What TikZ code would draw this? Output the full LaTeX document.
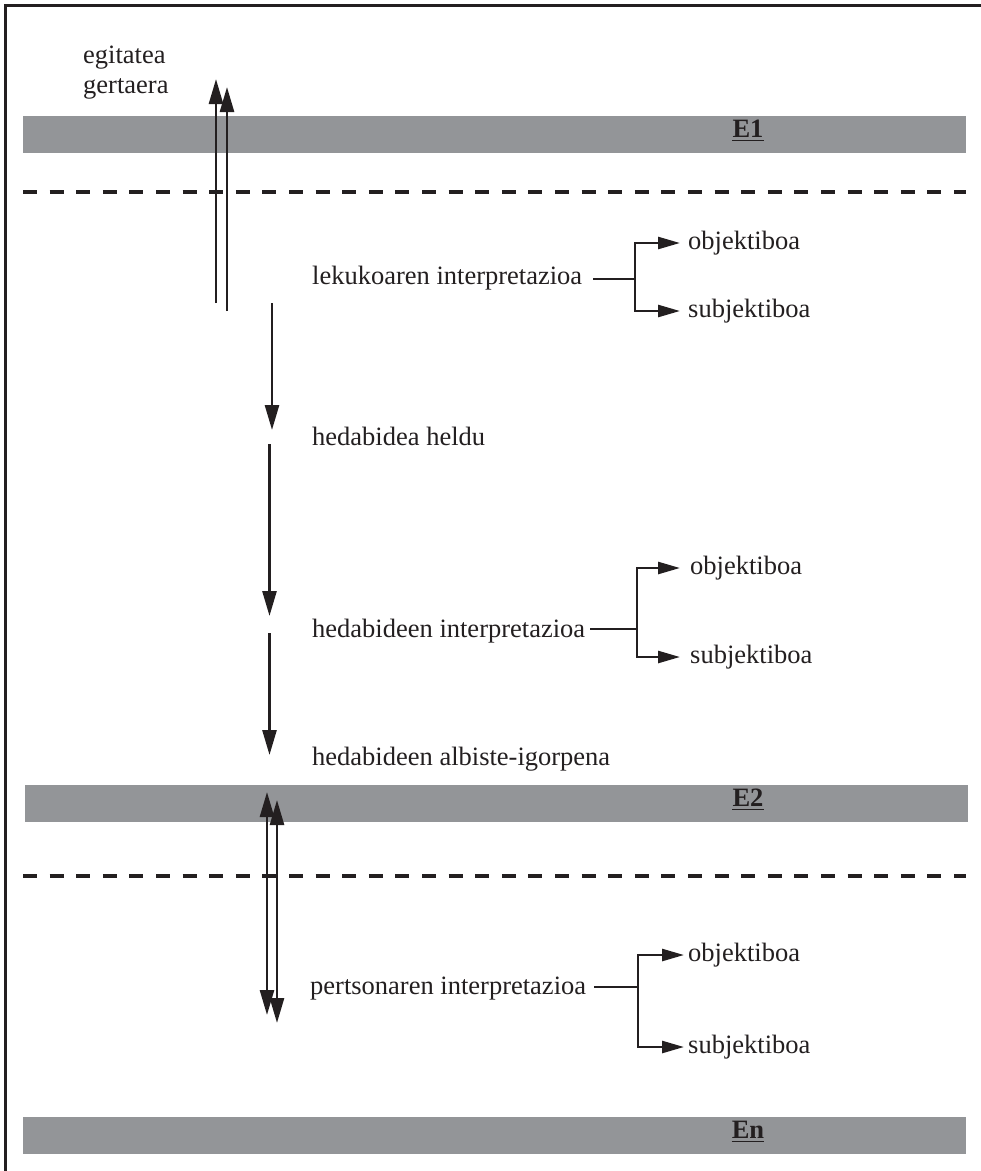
\documentclass[tikz,border=0pt]{standalone}
\usepackage{fontspec}
\setmainfont{Liberation Serif}
\usetikzlibrary{arrows.meta}
\definecolor{ink}{RGB}{35,31,32}
\definecolor{bandgray}{RGB}{147,149,152}
\begin{document}
\begin{tikzpicture}[x=1pt,y=-1pt,
  lbl/.style={anchor=base west,inner sep=0pt,font=\fontsize{26.5}{30}\selectfont,text=ink},
  tlbl/.style={anchor=west,inner sep=0pt,font=\fontsize{26.5}{30}\selectfont,text=ink},
  elbl/.style={anchor=base,inner sep=0pt,font=\fontsize{26.5}{30}\selectfont\bfseries,text=ink},
  bandbox/.style={fill=bandgray,draw=none,anchor=north west,inner sep=0pt,minimum width=943pt,minimum height=37pt},
  dashline/.style={draw=ink,line width=4.4pt,dash pattern=on 14pt off 12.6pt},
  bigarrow/.style={draw=ink,line width=2.6pt,-{Triangle[length=25pt,width=14pt]}},
  dbarrow/.style={draw=ink,line width=2.6pt,{Triangle[length=25pt,width=14pt]}-{Triangle[length=25pt,width=14pt]}},
  brline/.style={draw=ink,line width=2.6pt},
  brarrow/.style={draw=ink,line width=2.6pt,-{Triangle[length=22pt,width=12pt]}},
  uline/.style={draw=ink,line width=1.6pt},
  frameline/.style={draw=ink,line width=3pt}
]
\useasboundingbox (0,0) rectangle (981,1171);

% frame (top and left visible)
\draw[frameline] (5,1171) -- (5,5) -- (981,5);

% bands
\node[bandbox] (b1) at (23,116) {};
\node[bandbox] (b2) at (25,785) {};
\node[bandbox] (bn) at (23,1117) {};

\node[elbl] (e1) at (748,137) {E1};
\node[elbl] (e2) at (748,806) {E2};
\node[elbl] (en) at (748,1138) {En};
\draw[uline] ([yshift=-3.5pt]e1.base west) -- ([yshift=-3.5pt]e1.base east);
\draw[uline] ([yshift=-3.5pt]e2.base west) -- ([yshift=-3.5pt]e2.base east);
\draw[uline] ([yshift=-3.5pt]en.base west) -- ([yshift=-3.5pt]en.base east);

% dashed lines
\coordinate (d1a) at (23,192);
\coordinate (d1b) at (966,192);
\coordinate (d2a) at (23,876);
\coordinate (d2b) at (966,876);
\draw[dashline] (d1a) -- (d1b);
\draw[dashline] (d2a) -- (d2b);

% top texts
\node[lbl] (egi) at (83,63) {egitatea};
\node[lbl] (ger) at (83,93) {gertaera};

% up arrows through E1
\coordinate (u1s) at (216,303);
\coordinate (u1e) at (216,79);
\coordinate (u2s) at (227,311);
\coordinate (u2e) at (227,87);
\draw[bigarrow] (u1s) -- (u1e);
\draw[bigarrow] (u2s) -- (u2e);

% down arrows column
\coordinate (a1s) at (272,303);
\coordinate (a1e) at (272,430);
\coordinate (a2s) at (269.5,444);
\coordinate (a2e) at (269.5,616);
\coordinate (a3s) at (269.5,633);
\coordinate (a3e) at (269.5,755);
\draw[bigarrow] (a1s) -- (a1e);
\draw[bigarrow] (a2s) -- (a2e);
\draw[bigarrow] (a3s) -- (a3e);

% double arrows through E2
\coordinate (w1a) at (267,792);
\coordinate (w1b) at (267,1015);
\coordinate (w2a) at (277,800);
\coordinate (w2b) at (277,1023);
\draw[dbarrow] (w1a) -- (w1b);
\draw[dbarrow] (w2a) -- (w2b);

% middle texts
\node[lbl] (lek) at (312,284) {lekukoaren interpretazioa};
\node[lbl] (hel) at (312,445) {hedabidea heldu};
\node[lbl] (hint) at (312,637) {hedabideen interpretazioa};
\node[lbl] (halb) at (312,765) {hedabideen albiste-igorpena};
\node[lbl] (pers) at (310,994) {pertsonaren interpretazioa};

% branch 1
\coordinate (j1a) at (593,279);
\coordinate (j1) at (635,279);
\node[tlbl] (o1) at (688,243) {objektiboa};
\node[tlbl] (s1) at (688,311) {subjektiboa};
\draw[brline] (j1a) -- (j1);
\draw[brarrow] (j1) |- ([xshift=-8pt]o1.west);
\draw[brarrow] (j1) |- ([xshift=-8pt]s1.west);

% branch 2
\coordinate (j2a) at (590,629);
\coordinate (j2) at (637,629);
\node[tlbl] (o2) at (690,568) {objektiboa};
\node[tlbl] (s2) at (690,657) {subjektiboa};
\draw[brline] (j2a) -- (j2);
\draw[brarrow] (j2) |- ([xshift=-10pt]o2.west);
\draw[brarrow] (j2) |- ([xshift=-10pt]s2.west);

% branch 3
\coordinate (j3a) at (594,987);
\coordinate (j3) at (638,987);
\node[tlbl] (o3) at (688,955) {objektiboa};
\node[tlbl] (s3) at (688,1047) {subjektiboa};
\draw[brline] (j3a) -- (j3);
\draw[brarrow] (j3) |- ([xshift=-4pt]o3.west);
\draw[brarrow] (j3) |- ([xshift=-4pt]s3.west);
\end{tikzpicture}
\end{document}
